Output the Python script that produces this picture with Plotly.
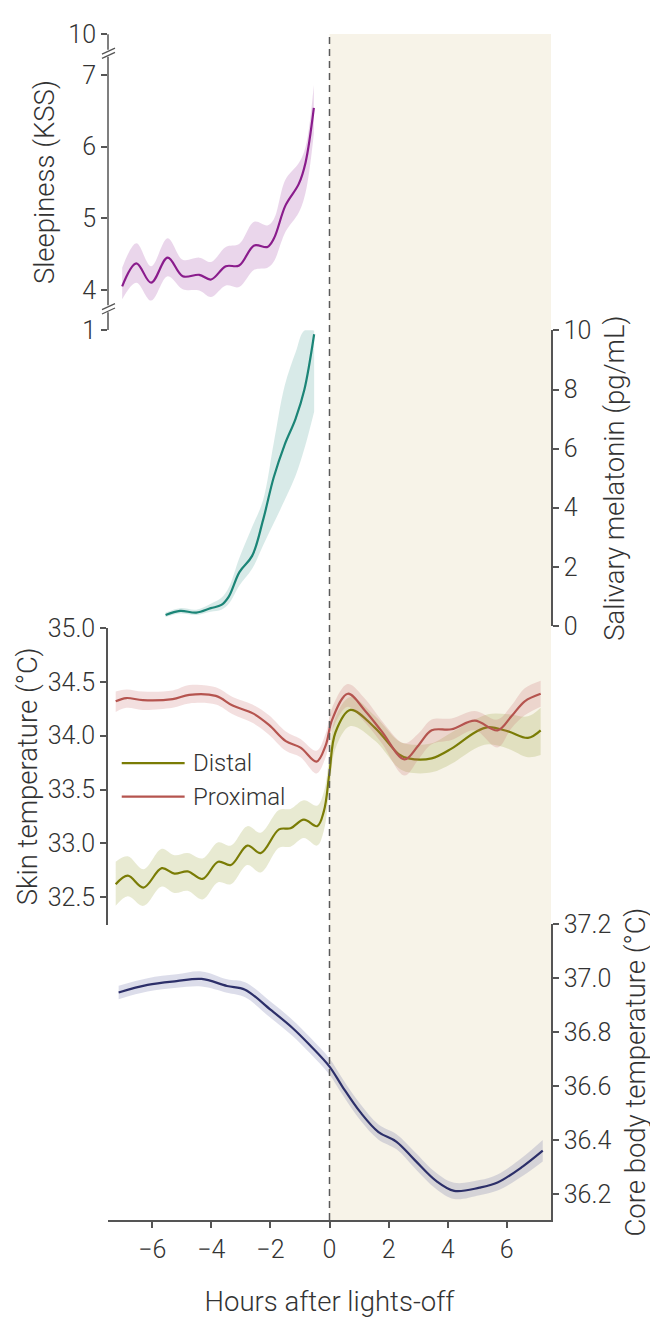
import plotly.graph_objects as go

# ---------------- data ----------------
# Sleepiness (KSS)
sleep_x = [-7.02, -6.54, -6.04, -5.48, -4.97, -4.41, -4.01, -3.51, -3.06, -2.55, -2.10, -1.88, -1.49, -1.04, -0.81, -0.53]
sleep_mean = [4.05, 4.37, 4.10, 4.45, 4.19, 4.21, 4.145, 4.33, 4.34, 4.62, 4.60, 4.72, 5.18, 5.48, 5.78, 6.54]
sleep_lo = [3.87, 4.10, 3.85, 4.19, 4.01, 3.99, 3.90, 4.06, 4.04, 4.28, 4.31, 4.40, 4.81, 5.08, 5.36, 6.18]
sleep_hi = [4.31, 4.65, 4.33, 4.72, 4.42, 4.45, 4.39, 4.60, 4.64, 4.95, 4.90, 4.99, 5.54, 5.77, 6.00, 6.86]

# Salivary melatonin (pg/mL)
mel_x = [-5.55, -5.06, -4.51, -4.02, -3.66, -3.41, -3.05, -2.62, -2.25, -1.89, -1.52, -1.15, -0.85, -0.52]
mel_mean = [0.37, 0.51, 0.45, 0.60, 0.71, 0.99, 1.82, 2.37, 3.58, 5.02, 6.13, 7.01, 8.00, 9.87]
mel_lo = [0.30, 0.42, 0.37, 0.48, 0.55, 0.75, 1.37, 1.93, 2.72, 3.47, 4.25, 5.08, 6.00, 7.25]
mel_hi = [0.45, 0.60, 0.55, 0.75, 0.95, 1.30, 2.31, 3.35, 4.25, 6.18, 8.12, 9.25, 10.0, 10.0]

# Skin temperature (°C)
prox_x = [-7.24, -6.88, -6.32, -5.31, -4.75, -3.85, -3.28, -2.61, -2.05, -1.48, -0.98, -0.44, -0.13,
          0.09, 0.62, 1.21, 1.77, 2.54, 3.01, 3.46, 4.13, 4.92, 5.69, 6.16, 6.61, 7.15]
prox_mean = [34.32, 34.35, 34.33, 34.34, 34.38, 34.37, 34.28, 34.21, 34.10, 33.95, 33.89, 33.76, 33.91,
             34.15, 34.39, 34.23, 34.04, 33.78, 33.91, 34.05, 34.06, 34.14, 34.05, 34.18, 34.32, 34.39]
prox_lo = [34.22, 34.26, 34.24, 34.26, 34.30, 34.29, 34.20, 34.12, 34.01, 33.86, 33.80, 33.65, 33.80,
           34.05, 34.27, 34.12, 33.93, 33.63, 33.78, 33.92, 33.96, 34.05, 33.89, 34.07, 34.19, 34.27]
prox_hi = [34.41, 34.43, 34.41, 34.42, 34.47, 34.45, 34.36, 34.29, 34.19, 34.04, 33.97, 33.86, 34.02,
           34.26, 34.48, 34.34, 34.14, 33.93, 34.02, 34.15, 34.16, 34.23, 34.15, 34.28, 34.44, 34.51]

dist_x = [-7.24, -6.83, -6.30, -5.68, -5.25, -4.80, -4.30, -3.77, -3.34, -2.78, -2.33, -1.71, -1.32, -0.87,
          -0.42, -0.19, 0.0, 0.20, 0.71, 1.55, 2.34, 2.67, 3.46, 4.13, 4.92, 5.37, 6.05, 6.72, 7.15]
dist_mean = [32.62, 32.70, 32.59, 32.77, 32.72, 32.74, 32.67, 32.83, 32.80, 32.98, 32.91, 33.13, 33.14, 33.22,
             33.16, 33.30, 33.66, 34.03, 34.24, 34.07, 33.83, 33.79, 33.79, 33.88, 34.03, 34.08, 34.04, 33.98, 34.05]
dist_lo = [32.42, 32.51, 32.42, 32.60, 32.54, 32.56, 32.48, 32.64, 32.62, 32.80, 32.73, 32.96, 32.97, 33.05,
           32.98, 33.12, 33.50, 33.88, 34.09, 33.95, 33.70, 33.66, 33.66, 33.74, 33.88, 33.92, 33.88, 33.80, 33.82]
dist_hi = [32.83, 32.88, 32.76, 32.95, 32.89, 32.91, 32.86, 33.01, 32.98, 33.16, 33.10, 33.31, 33.32, 33.40,
           33.35, 33.48, 33.82, 34.17, 34.36, 34.18, 33.95, 33.92, 33.93, 34.03, 34.15, 34.20, 34.20, 34.18, 34.26]

# Core body temperature (°C)
core_x = [-7.14, -6.16, -5.18, -4.33, -3.47, -2.86, -2.01, -1.27, -0.66, 0.0, 0.43, 1.05, 1.66, 2.27,
          2.88, 3.61, 4.22, 5.08, 5.69, 6.55, 7.22]
core_mean = [36.948, 36.976, 36.990, 36.998, 36.972, 36.958, 36.885, 36.818, 36.752, 36.673, 36.600, 36.503,
             36.430, 36.394, 36.327, 36.249, 36.212, 36.224, 36.243, 36.303, 36.361]
core_err = [0.025, 0.025, 0.025, 0.028, 0.025, 0.028, 0.03, 0.03, 0.03, 0.03, 0.03, 0.03,
            0.028, 0.028, 0.03, 0.03, 0.03, 0.028, 0.03, 0.035, 0.04]

x_ticks = [-6, -4, -2, 0, 2, 4, 6]
sleep_ticks = [4, 5, 6, 7]
mel_ticks = [0, 2, 4, 6, 8, 10]
skin_ticks = [32.5, 33.0, 33.5, 34.0, 34.5, 35.0]
core_ticks = [36.2, 36.4, 36.6, 36.8, 37.0, 37.2]
legend_names = ["Distal", "Proximal"]

# ---------------- styling ----------------
FONT = "Roboto"
TXT = "#333333"
AX = "#555555"
C_SLEEP, F_SLEEP = "#8A1C8C", "rgba(160, 70, 165, 0.22)"
C_MEL, F_MEL = "#1B8577", "rgba(40, 140, 125, 0.18)"
C_DIST, F_DIST = "#7A7C05", "rgba(150, 160, 50, 0.22)"
C_PROX, F_PROX = "#B5544F", "rgba(200, 110, 110, 0.22)"
C_CORE, F_CORE = "#2C2F69", "rgba(80, 85, 150, 0.20)"

# KSS broken axis: "1" and "10" are shown at the ends of the compressed scale
KSS_LOW, KSS_HIGH = 3.438, 7.571
KSS_BREAKS = [7.304, 3.736]
KSS_GAP = 0.05

fig = go.Figure()


def add_band(x, lo, hi, mean, yaxis, fill, color, name):
    fig.add_trace(go.Scatter(x=x, y=hi, yaxis=yaxis, mode="lines", line=dict(width=0, shape="spline"),
                             hoverinfo="skip", showlegend=False))
    fig.add_trace(go.Scatter(x=x, y=lo, yaxis=yaxis, mode="lines", line=dict(width=0, shape="spline"),
                             fill="tonexty", fillcolor=fill, hoverinfo="skip", showlegend=False))
    fig.add_trace(go.Scatter(x=x, y=mean, yaxis=yaxis, mode="lines", name=name,
                             line=dict(color=color, width=2.2, shape="spline"), showlegend=False))


core_lo = [m - e for m, e in zip(core_mean, core_err)]
core_hi = [m + e for m, e in zip(core_mean, core_err)]

add_band(core_x, core_lo, core_hi, core_mean, "y", F_CORE, C_CORE, "Core body temperature")
add_band(dist_x, dist_lo, dist_hi, dist_mean, "y2", F_DIST, C_DIST, legend_names[0])
add_band(prox_x, prox_lo, prox_hi, prox_mean, "y2", F_PROX, C_PROX, legend_names[1])
add_band(mel_x, mel_lo, mel_hi, mel_mean, "y3", F_MEL, C_MEL, "Salivary melatonin")
add_band(sleep_x, sleep_lo, sleep_hi, sleep_mean, "y4", F_SLEEP, C_SLEEP, "Sleepiness")

tickfont = dict(family=FONT, size=25, color=TXT, weight=300)
titlefont = dict(family=FONT, size=27.5, color=TXT, weight=300)
common = dict(showgrid=False, zeroline=False, ticks="outside", ticklen=6, tickwidth=1.5,
              tickcolor=AX, linecolor=AX, linewidth=1.5, tickfont=tickfont, anchor="x")

# the page body adds an 8 px offset, so the figure is 8 px smaller than the window
fig.update_layout(
    width=650, height=1316,
    margin=dict(l=100, r=105, t=17, b=91),
    paper_bgcolor="white", plot_bgcolor="rgba(0,0,0,0)",
    font=dict(family=FONT, color=TXT, weight=300),
    showlegend=False,
    xaxis=dict(range=[-7.5, 7.5], tickvals=x_ticks, showgrid=False, zeroline=False, showline=True,
               linecolor=AX, linewidth=1.5, ticks="outside", ticklen=6, tickwidth=1.5, tickcolor=AX,
               tickfont=dict(family=FONT, size=25, color=TXT, weight=300), anchor="y",
               title=dict(text="Hours after lights-off", font=titlefont, standoff=29)),
    yaxis=dict(domain=[0, 0.2494], range=[36.104, 37.201], tickvals=core_ticks, tickformat=".1f",
               side="right", showline=True,
               title=dict(text="Core body temperature (°C)", font=titlefont, standoff=15), **common),
    yaxis2=dict(domain=[0.249, 0.4992], range=[32.245, 35.001], tickvals=skin_ticks, tickformat=".1f",
                side="left", showline=True,
                title=dict(text="Skin temperature (°C)", font=titlefont, standoff=2), **common),
    yaxis3=dict(domain=[0.5008, 0.7502], range=[-0.005, 10.005], tickvals=mel_ticks,
                side="right", showline=True,
                title=dict(text="Salivary melatonin (pg/mL)", font=titlefont, standoff=14), **common),
    yaxis4=dict(domain=[0.7502, 1.0], range=[KSS_LOW - 0.002, KSS_HIGH + 0.002],
                tickvals=[KSS_LOW] + sleep_ticks + [KSS_HIGH],
                ticktext=["1"] + [str(t) for t in sleep_ticks] + ["10"],
                side="left", showline=False,
                title=dict(text="Sleepiness (KSS)", font=titlefont, standoff=5), **common),
)

# lights-off shading and dashed line
fig.add_shape(type="rect", xref="x", yref="paper", x0=0, x1=7.5, y0=0, y1=1,
              fillcolor="#F7F3E8", line=dict(width=0), layer="below")
fig.add_shape(type="line", xref="x", yref="paper", x0=0, x1=0, y0=0, y1=1,
              line=dict(color="#5a5a5a", width=1.5, dash="7px,5px"), layer="above")

# broken KSS axis line
segments = [(KSS_HIGH, KSS_BREAKS[0] + KSS_GAP),
            (KSS_BREAKS[0] - KSS_GAP, KSS_BREAKS[1] + KSS_GAP),
            (KSS_BREAKS[1] - KSS_GAP, KSS_LOW)]
for a, b in segments:
    fig.add_shape(type="line", xref="paper", yref="y4", x0=0, x1=0, y0=a, y1=b,
                  line=dict(color=AX, width=1.5))
for bv in KSS_BREAKS:
    for off in (2.2, -2.2):
        fig.add_shape(type="line", xref="paper", yref="y4", xsizemode="pixel", ysizemode="pixel",
                      xanchor=0, yanchor=bv, x0=-6, x1=7, y0=-3 + off, y1=3 + off,
                      line=dict(color=AX, width=1.3))

# legend drawn inside the skin-temperature panel
for i, (name, col) in enumerate(zip(legend_names, [C_DIST, C_PROX])):
    yp = 0.3852 - i * 0.0282
    fig.add_shape(type="line", xref="paper", yref="paper", x0=0.031, x1=0.173, y0=yp, y1=yp,
                  line=dict(color=col, width=2.2))
    fig.add_annotation(x=0.1865, y=yp, xref="paper", yref="paper", text=name, showarrow=False,
                       xanchor="left", yanchor="middle",
                       font=dict(family=FONT, size=24, color=TXT, weight=300))

fig.write_html("out.html")
